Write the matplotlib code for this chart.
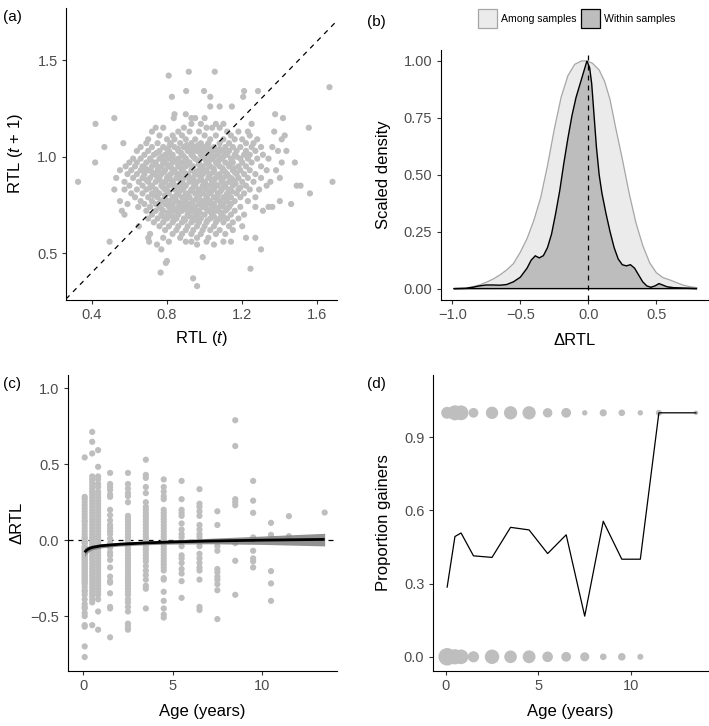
import numpy as np
import matplotlib
matplotlib.use("Agg")
import matplotlib.pyplot as plt
from matplotlib.patches import Rectangle

plt.rcParams['font.family'] = ['Liberation Sans', 'DejaVu Sans']
plt.rcParams['mathtext.fontset'] = 'custom'
plt.rcParams['mathtext.rm'] = 'Liberation Sans'
plt.rcParams['mathtext.it'] = 'Liberation Sans:italic'

# ---------------- data: panel (a) ----------------
# RTL(t+1) levels and the RTL(t) values of the points lying near each level
a_levels = [1.44, 1.42, 1.36, 1.34, 1.31, 1.26, 1.22, 1.20, 1.17, 1.15, 1.13, 1.11,
            1.09, 1.07, 1.05, 1.03, 1.01, 0.99, 0.97, 0.95, 0.93, 0.91, 0.89, 0.87,
            0.85, 0.83, 0.81, 0.79, 0.77, 0.755, 0.74, 0.72, 0.70, 0.68, 0.66, 0.64,
            0.62, 0.60, 0.58, 0.56, 0.545, 0.52, 0.48, 0.46, 0.45, 0.42, 0.40, 0.37, 0.33,
            1.04, 1.00, 0.96, 0.92, 0.88, 0.84, 0.80, 0.76, 0.73, 0.69,
            1.06, 1.02, 0.98, 0.94, 0.90, 0.86, 0.82, 0.78, 0.745, 0.71, 0.67]
a_rows = [
    [0.916, 1.054],
    [0.809],
    [1.664],
    [0.902, 0.997, 1.21, 1.284],
    [0.826, 1.03, 1.205],
    [1.03, 1.08, 1.145],
    [0.84, 1.375, 0.90],
    [0.52, 0.836, 0.95, 1.0, 1.417, 0.93],
    [0.42, 0.93, 0.98, 1.06, 1.10, 1.25],
    [0.74, 0.78, 0.89, 1.01, 1.04, 1.08, 1.554],
    [0.72, 0.86, 0.92, 0.97, 1.12, 1.18, 1.23, 1.37],
    [0.76, 0.83, 0.88, 1.00, 1.06, 1.14, 1.24, 1.426],
    [0.70, 0.80, 0.84, 0.90, 0.95, 1.03, 1.10, 1.16, 1.20, 1.28, 1.41],
    [0.568, 0.69, 0.75, 0.82, 0.87, 0.93, 0.98, 1.02, 1.08, 1.13, 1.22, 1.26],
    [0.467, 0.66, 0.72, 0.78, 0.84, 0.89, 0.94, 0.99, 1.05, 1.11, 1.15, 1.19, 1.25, 1.30, 1.36],
    [0.64, 0.70, 0.76, 0.81, 0.86, 0.91, 0.96, 1.01, 1.06, 1.09, 1.13, 1.17, 1.22, 1.27, 1.39, 1.435],
    [0.68, 0.73, 0.79, 0.83, 0.88, 0.93, 0.98, 1.02, 1.07, 1.12, 1.16, 1.21, 1.24, 1.31],
    [0.62, 0.66, 0.71, 0.76, 0.81, 0.86, 0.90, 0.95, 1.00, 1.04, 1.09, 1.14, 1.19, 1.23, 1.28, 1.34],
    [0.418, 0.60, 0.64, 0.69, 0.74, 0.78, 0.83, 0.88, 0.92, 0.97, 1.01, 1.06, 1.11, 1.15, 1.20, 1.25, 1.41, 1.48],
    [0.58, 0.63, 0.67, 0.72, 0.77, 0.81, 0.86, 0.90, 0.94, 0.99, 1.03, 1.08, 1.13, 1.18, 1.22, 1.30],
    [0.55, 0.61, 0.66, 0.70, 0.75, 0.79, 0.84, 0.88, 0.93, 0.97, 1.01, 1.05, 1.10, 1.15, 1.19, 1.24, 1.33, 1.38],
    [0.59, 0.64, 0.68, 0.73, 0.77, 0.82, 0.86, 0.91, 0.95, 0.99, 1.03, 1.08, 1.12, 1.17, 1.21, 1.27],
    [0.53, 0.62, 0.67, 0.71, 0.76, 0.80, 0.85, 0.89, 0.94, 0.98, 1.02, 1.06, 1.10, 1.14, 1.18, 1.23, 1.30, 1.40],
    [0.327, 0.574, 0.65, 0.70, 0.74, 0.79, 0.83, 0.88, 0.92, 0.96, 1.00, 1.04, 1.09, 1.13, 1.16, 1.20, 1.26, 1.35, 1.68],
    [0.60, 0.67, 0.72, 0.77, 0.81, 0.86, 0.90, 0.95, 0.99, 1.03, 1.07, 1.11, 1.15, 1.22, 1.33, 1.49, 1.51],
    [0.52, 0.574, 0.64, 0.69, 0.74, 0.79, 0.84, 0.88, 0.93, 0.97, 1.01, 1.05, 1.09, 1.13, 1.18, 1.24, 1.29],
    [0.61, 0.67, 0.72, 0.76, 0.81, 0.86, 0.90, 0.95, 0.99, 1.03, 1.07, 1.12, 1.17, 1.21, 1.56],
    [0.63, 0.70, 0.75, 0.79, 0.83, 0.88, 0.92, 0.97, 1.01, 1.05, 1.10, 1.14, 1.19, 1.27],
    [0.55, 0.66, 0.72, 0.77, 0.81, 0.85, 0.90, 0.94, 0.99, 1.03, 1.08, 1.12, 1.16, 1.23, 1.40],
    [0.59, 0.68, 0.74, 0.79, 0.83, 0.88, 0.92, 0.97, 1.01, 1.05, 1.10, 1.14, 1.46],
    [0.647, 0.71, 0.76, 0.81, 0.86, 0.90, 0.95, 0.99, 1.04, 1.08, 1.13, 1.19, 1.27, 1.34, 1.36],
    [0.56, 0.69, 0.74, 0.78, 0.83, 0.88, 0.93, 0.97, 1.02, 1.06, 1.11, 1.16, 1.31],
    [0.574, 0.72, 0.77, 0.81, 0.86, 0.91, 0.95, 1.00, 1.04, 1.09, 1.14, 1.21],
    [0.70, 0.75, 0.80, 0.85, 0.89, 0.94, 0.98, 1.03, 1.08, 1.12, 1.18],
    [0.73, 0.78, 0.83, 0.88, 0.93, 0.97, 1.01, 1.06, 1.10, 1.15],
    [0.65, 0.76, 0.81, 0.86, 0.91, 0.96, 1.00, 1.05, 1.13, 1.20],
    [0.79, 0.85, 0.90, 0.94, 0.99, 1.03, 1.08, 1.15],
    [0.71, 0.83, 0.88, 0.93, 0.98, 1.06, 1.11],
    [0.70, 0.78, 0.87, 0.96, 1.02, 1.22, 1.27],
    [0.495, 0.705, 0.81, 0.90, 0.93, 1.01, 1.10, 1.14],
    [0.747, 0.96, 1.05],
    [0.77, 1.30],
    [0.99],
    [0.80],
    [0.794],
    [1.244],
    [0.766],
    [0.939],
    [0.96],
    # dense core
    [0.80, 0.86, 0.92, 0.97, 1.03, 1.08],
    [0.77, 0.83, 0.89, 0.94, 0.99, 1.05, 1.10, 1.17],
    [0.74, 0.80, 0.86, 0.91, 0.97, 1.02, 1.07, 1.13],
    [0.72, 0.78, 0.84, 0.89, 0.95, 1.00, 1.05, 1.11, 1.16],
    [0.69, 0.76, 0.82, 0.87, 0.92, 0.98, 1.04, 1.09, 1.15],
    [0.71, 0.78, 0.84, 0.89, 0.94, 1.00, 1.05, 1.10, 1.19],
    [0.73, 0.79, 0.85, 0.91, 0.96, 1.01, 1.07, 1.12],
    [0.76, 0.82, 0.87, 0.93, 0.98, 1.03, 1.09],
    [0.77, 0.84, 0.90, 0.95, 1.01, 1.06, 1.12],
    [0.78, 0.83, 0.92, 0.96, 1.05, 1.10],
    [0.815, 0.905, 0.965, 1.015],
    [0.745, 0.815, 0.875, 0.935, 0.985, 1.035, 1.105],
    [0.715, 0.785, 0.845, 0.905, 0.965, 1.025, 1.075, 1.145],
    [0.685, 0.755, 0.825, 0.875, 0.935, 0.985, 1.045, 1.095, 1.155],
    [0.745, 0.805, 0.865, 0.915, 0.975, 1.025, 1.075, 1.125],
    [0.775, 0.835, 0.885, 0.945, 1.005, 1.055, 1.105, 1.165],
    [0.745, 0.805, 0.865, 0.925, 0.975, 1.035, 1.085, 1.145],
    [0.785, 0.845, 0.895, 0.955, 1.015, 1.065, 1.115],
    [0.815, 0.875, 0.925, 0.985, 1.045, 1.095],
    [0.805, 0.855, 0.915, 0.975, 1.035, 1.085],
    [0.835, 0.895, 0.955, 1.015, 1.065],
]

# ---------------- data: panel (b) ----------------
among_x = [-0.99, -0.90, -0.85, -0.80, -0.75, -0.70, -0.65, -0.60, -0.55, -0.50, -0.45, -0.40,
           -0.35, -0.30, -0.25, -0.20, -0.15, -0.10, -0.05, -0.01, 0.03, 0.08, 0.12, 0.16,
           0.20, 0.25, 0.30, 0.35, 0.40, 0.45, 0.50, 0.55, 0.60, 0.65, 0.70, 0.75, 0.80]
among_y = [0.0, 0.003, 0.008, 0.016, 0.028, 0.042, 0.06, 0.082, 0.11, 0.16, 0.22, 0.30,
           0.40, 0.54, 0.70, 0.84, 0.935, 0.985, 1.0, 1.0, 0.99, 0.96, 0.91, 0.83,
           0.71, 0.57, 0.42, 0.29, 0.19, 0.115, 0.07, 0.048, 0.038, 0.026, 0.015, 0.008, 0.004]
within_x = [-0.99, -0.90, -0.85, -0.80, -0.75, -0.70, -0.65, -0.60, -0.55, -0.50, -0.45, -0.42,
            -0.39, -0.36, -0.33, -0.30, -0.27, -0.24, -0.21, -0.18, -0.15, -0.12, -0.09, -0.06,
            -0.03, -0.01, 0.01, 0.025, 0.04, 0.06, 0.08, 0.10, 0.13, 0.16, 0.19, 0.22, 0.25,
            0.28, 0.31, 0.34, 0.37, 0.40, 0.43, 0.46, 0.49, 0.52, 0.55, 0.58, 0.63, 0.70, 0.80]
within_y = [0.0, 0.001, 0.006, 0.012, 0.016, 0.016, 0.015, 0.018, 0.03, 0.05, 0.09, 0.125,
            0.144, 0.135, 0.145, 0.18, 0.24, 0.33, 0.43, 0.55, 0.66, 0.76, 0.84, 0.90,
            0.96, 1.0, 0.97, 0.90, 0.78, 0.62, 0.50, 0.42, 0.33, 0.25, 0.18, 0.13, 0.105,
            0.10, 0.105, 0.09, 0.06, 0.03, 0.012, 0.006, 0.012, 0.022, 0.015, 0.008, 0.004, 0.002, 0.0]

# ---------------- data: panel (c) ----------------
c_ages = [0.08, 0.5, 0.83, 1.5, 2.5, 3.5, 4.5, 5.5, 6.5, 7.5, 8.5, 9.5, 10.5, 11.5, 13.5]
c_delta = [
    [0.545, 0.285, 0.27, 0.25, 0.23, 0.21, 0.19, 0.17, 0.15, 0.13, 0.12, 0.10, 0.08, 0.06, 0.04,
     0.02, 0.01, -0.01, -0.02, -0.04, -0.05, -0.06, -0.07, -0.08, -0.09, -0.10, -0.11, -0.12,
     -0.13, -0.14, -0.15, -0.16, -0.17, -0.18, -0.19, -0.20, -0.21, -0.22, -0.23, -0.24, -0.25,
     -0.26, -0.27, -0.28, -0.29, -0.31, -0.33, -0.34, -0.36, -0.39, -0.42, -0.44, -0.45, -0.48,
     -0.50, -0.56, -0.57, -0.70, -0.77],
    [0.713, 0.648, 0.571, 0.42, 0.40, 0.38, 0.36, 0.34, 0.32, 0.30, 0.28, 0.26, 0.24, 0.22, 0.20,
     0.18, 0.16, 0.14, 0.12, 0.10, 0.08, 0.06, 0.04, 0.02, 0.01, -0.01, -0.03, -0.05, -0.07,
     -0.09, -0.11, -0.13, -0.15, -0.17, -0.19, -0.21, -0.23, -0.25, -0.27, -0.29, -0.31, -0.33,
     -0.35, -0.37, -0.39, -0.41, -0.56],
    [0.593, 0.483, 0.42, 0.40, 0.37, 0.35, 0.32, 0.30, 0.28, 0.26, 0.24, 0.22, 0.20, 0.18, 0.16,
     0.14, 0.12, 0.10, 0.08, 0.06, 0.04, 0.02, 0.00, -0.02, -0.04, -0.06, -0.08, -0.10, -0.12,
     -0.14, -0.16, -0.18, -0.20, -0.22, -0.24, -0.26, -0.28, -0.30, -0.32, -0.34, -0.36, -0.39,
     -0.47, -0.59],
    [0.443, 0.37, 0.35, 0.33, 0.30, 0.285, 0.20, 0.165, 0.13, 0.10, 0.08, 0.06, 0.04, 0.01,
     -0.02, -0.05, -0.08, -0.10, -0.13, -0.18, -0.24, -0.27, -0.28, -0.35, -0.44, -0.45, -0.64],
    [0.443, 0.37, 0.34, 0.31, 0.29, 0.25, 0.16, 0.14, 0.12, 0.10, 0.08, 0.06, 0.04, 0.02, 0.00,
     -0.02, -0.04, -0.06, -0.08, -0.10, -0.12, -0.14, -0.16, -0.18, -0.20, -0.22, -0.24, -0.26,
     -0.28, -0.30, -0.32, -0.34, -0.36, -0.39, -0.41, -0.44, -0.47, -0.55, -0.57, -0.59],
    [0.53, 0.43, 0.41, 0.35, 0.31, 0.25, 0.22, 0.20, 0.18, 0.16, 0.14, 0.12, 0.10, 0.08, 0.06,
     0.04, 0.02, 0.00, -0.02, -0.04, -0.06, -0.08, -0.10, -0.12, -0.14, -0.17, -0.20, -0.23,
     -0.26, -0.30, -0.32, -0.45],
    [0.40, 0.35, 0.32, 0.29, 0.27, 0.20, 0.18, 0.16, 0.14, 0.12, 0.10, 0.08, 0.06, 0.04, 0.02,
     0.00, -0.02, -0.04, -0.06, -0.08, -0.10, -0.12, -0.14, -0.16, -0.18, -0.20, -0.25, -0.26,
     -0.34, -0.40, -0.45, -0.49, -0.51],
    [0.39, 0.27, 0.20, 0.18, 0.16, 0.11, 0.07, 0.04, 0.02, -0.04, -0.10, -0.12, -0.15, -0.19,
     -0.22, -0.27, -0.38],
    [0.336, 0.24, 0.22, 0.19, 0.16, 0.10, 0.07, 0.04, 0.02, -0.04, -0.09, -0.12, -0.15, -0.18,
     -0.20, -0.26, -0.44, -0.46],
    [0.19, 0.10, -0.04, -0.07, -0.19, -0.21, -0.24, -0.26, -0.29, -0.33, -0.52],
    [0.79, 0.62, 0.27, 0.25, 0.23, -0.02, -0.136, -0.36],
    [0.39, 0.26, 0.18, 0.018, 0.0, -0.07, -0.12, -0.14, -0.18],
    [0.114, 0.035, -0.204, -0.285, -0.40],
    [0.158, 0.026],
    [0.182],
]
fit_age = [0.08, 0.15, 0.3, 0.5, 1.0, 2.0, 3.5, 5.0, 7.0, 10.0, 13.5]
fit_mid = [-0.080, -0.070, -0.057, -0.048, -0.037, -0.027, -0.018, -0.012, -0.006, 0.000, 0.005]
fit_lo = [-0.110, -0.094, -0.076, -0.064, -0.051, -0.039, -0.030, -0.026, -0.024, -0.028, -0.038]
fit_hi = [-0.050, -0.046, -0.038, -0.032, -0.023, -0.015, -0.006, 0.002, 0.012, 0.027, 0.045]

# ---------------- data: panel (d) ----------------
d_ages = [0.08, 0.5, 0.83, 1.5, 2.5, 3.5, 4.5, 5.5, 6.5, 7.5, 8.5, 9.5, 10.5, 11.5, 13.5]
d_gainers = [20, 35, 34, 12, 22, 26, 26, 11, 12, 2, 5, 4, 2, 3, 1]
d_losers = [50, 36, 33, 17, 32, 23, 24, 15, 12, 10, 4, 6, 3, 0, 0]

# ---------------- styling helpers ----------------
W, H = 709, 726
PT_GRAY = '#bebebe'
TICK_COL = '#4d4d4d'
PT_S = 20


def ax_rect(left, top, right, bottom):
    return [left / W, (H - bottom) / H, (right - left) / W, (bottom - top) / H]


def style(ax):
    for s in ['top', 'right']:
        ax.spines[s].set_visible(False)
    for s in ['left', 'bottom']:
        ax.spines[s].set_color('black')
        ax.spines[s].set_linewidth(0.8)
    ax.tick_params(length=3, width=0.8, color='#333333', labelcolor=TICK_COL,
                   labelsize=10.5, pad=3)


fig = plt.figure(figsize=(W / 100, H / 100), dpi=100)

# ---- (a)
ax = fig.add_axes(ax_rect(66, 8, 337, 300))
xa, ya = [], []
for lev, row in zip(a_levels, a_rows):
    xa.extend(row)
    ya.extend([lev] * len(row))
ax.scatter(xa, ya, s=PT_S, color=PT_GRAY, edgecolors='none', zorder=2)
ax.axline((0.5, 0.5), slope=1, color='black', lw=0.9, dashes=(4, 4), zorder=3)
ax.set_xlim(0.263, 1.704)
ax.set_ylim(0.258, 1.77)
ax.set_xticks([0.4, 0.8, 1.2, 1.6])
ax.set_yticks([0.5, 1.0, 1.5])
style(ax)
ax.set_xlabel(r'RTL ($\mathit{t}$)', fontsize=12, labelpad=5)
ax.set_ylabel(r'RTL ($\mathit{t}$ + 1)', fontsize=12, labelpad=9)

# ---- (b)
ax = fig.add_axes(ax_rect(440.7, 50, 708, 300))
ax.fill(among_x, among_y, facecolor='#ebebeb', edgecolor='#a6a6a6', lw=0.9, zorder=1)
ax.fill(within_x, within_y, facecolor='#bdbdbd', edgecolor='black', lw=1.0, zorder=2)
ax.axvline(0, color='black', lw=0.9, dashes=(4, 4), zorder=3)
ax.set_xlim(-1.085, 0.88)
ax.set_ylim(-0.05, 1.048)
ax.set_xticks([-1.0, -0.5, 0.0, 0.5])
ax.set_xticklabels(['\u22121.0', '\u22120.5', '0.0', '0.5'])
ax.set_yticks([0.0, 0.25, 0.5, 0.75, 1.0])
ax.set_yticklabels(['0.00', '0.25', '0.50', '0.75', '1.00'])
style(ax)
ax.set_xlabel('\u0394RTL', fontsize=12, labelpad=8)
ax.set_ylabel('Scaled density', fontsize=12, labelpad=9)

# legend (b)
for (bx, face, edge, label, tx) in [(477.7, '#ebebeb', '#a6a6a6', 'Among samples', 501),
                                    (580.5, '#bdbdbd', 'black', 'Within samples', 604)]:
    fig.add_artist(Rectangle((bx / W, 1 - 28 / H), 19 / W, 19 / H, transform=fig.transFigure,
                             facecolor=face, edgecolor=edge, lw=0.9))
    fig.text(tx / W, 1 - 18.5 / H, label, fontsize=7.6, ha='left', va='center', color='black')

# ---- (c)
ax = fig.add_axes(ax_rect(67.7, 375, 337, 671))
ax.axhline(0, color='black', lw=0.9, dashes=(4, 4), zorder=1)
xc, yc = [], []
for age, vals in zip(c_ages, c_delta):
    xc.extend([age] * len(vals))
    yc.extend(vals)
ax.scatter(xc, yc, s=PT_S, color=PT_GRAY, edgecolors='none', zorder=2)
ax.fill_between(fit_age, fit_lo, fit_hi, color='#858585', alpha=0.9, lw=0, zorder=3)
ax.plot(fit_age, fit_mid, color='black', lw=2.0, zorder=4, solid_capstyle='butt')
ax.set_xlim(-0.87, 14.19)
ax.set_ylim(-0.862, 1.088)
ax.set_xticks([0, 5, 10])
ax.set_yticks([-0.5, 0.0, 0.5, 1.0])
ax.set_yticklabels(['\u22120.5', '0.0', '0.5', '1.0'])
style(ax)
ax.set_xlabel('Age (years)', fontsize=12, labelpad=8)
ax.set_ylabel('\u0394RTL', fontsize=12, labelpad=4)

# ---- (d)
ax = fig.add_axes(ax_rect(432.7, 375, 708, 670.7))
g = np.array(d_gainers, float)
l = np.array(d_losers, float)
nmax = max(g.max(), l.max())


def diam_px(n):
    return 4.5 + 13.0 * (np.sqrt(n) - 1) / (np.sqrt(nmax) - 1)


for counts, yv in [(g, 1.0), (l, 0.0)]:
    mask = counts > 0
    xs = np.array(d_ages)[mask]
    sz = (diam_px(counts[mask]) * 0.72) ** 2
    ax.scatter(xs, [yv] * len(xs), s=sz, color=PT_GRAY, edgecolors='none', zorder=2)
prop = g / (g + l)
ax.plot(d_ages, prop, color='black', lw=0.9, zorder=3)
ax.set_xlim(-0.70, 14.15)
ax.set_ylim(-0.057, 1.155)
ax.set_xticks([0, 5, 10])
ax.set_yticks([0.0, 0.3, 0.6, 0.9])
style(ax)
ax.set_xlabel('Age (years)', fontsize=12, labelpad=8)
ax.set_ylabel('Proportion gainers', fontsize=12, labelpad=9)

# panel letters
for lab, x, y in [('(a)', 3, 17.5), ('(b)', 367, 22), ('(c)', 3, 384), ('(d)', 367, 384)]:
    fig.text(x / W, 1 - y / H, lab, fontsize=11, ha='left', va='center')

fig.savefig('out.png', dpi=100)
